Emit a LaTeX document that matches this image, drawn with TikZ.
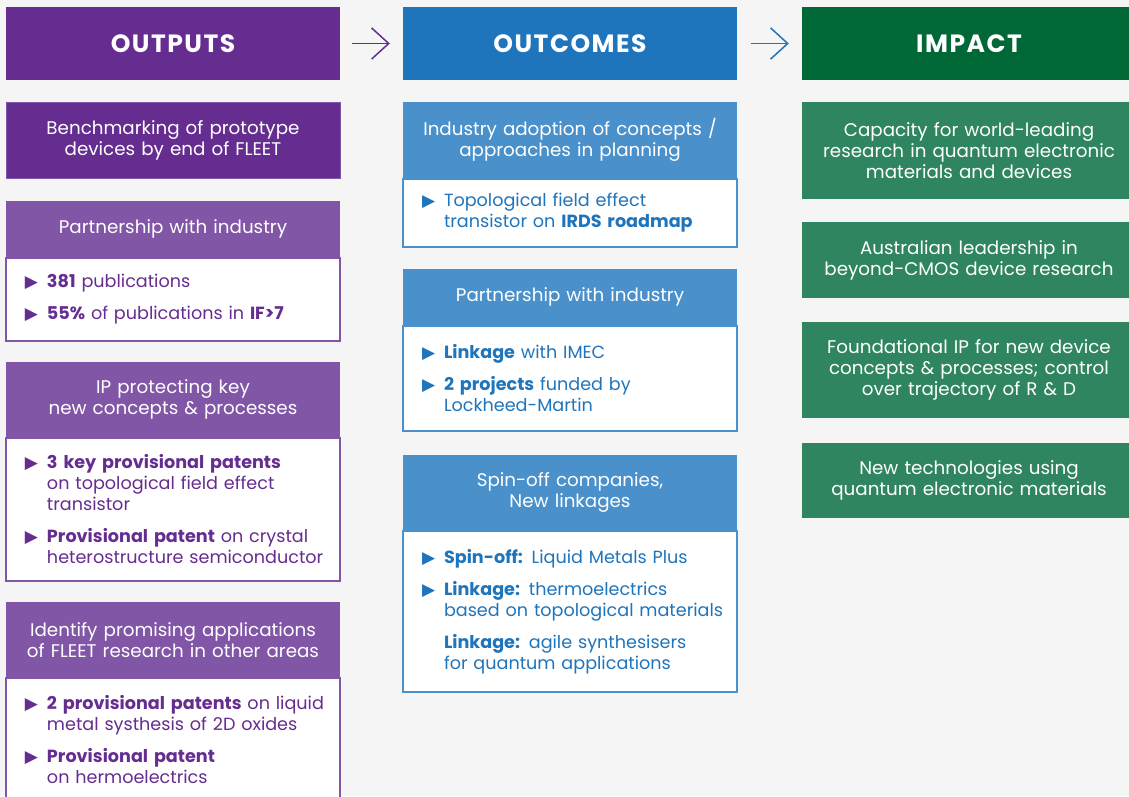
\documentclass[tikz,border=0pt]{standalone}
\usepackage{fontspec}
\setmainfont{Poppins}
\newfontfamily\bulfont{DejaVu Sans}
\usetikzlibrary{arrows.meta}
\definecolor{bgc}{HTML}{F5F5F5}
\definecolor{outdark}{HTML}{662D91}
\definecolor{outlight}{HTML}{8156A6}
\definecolor{ocdark}{HTML}{1F75BC}
\definecolor{oclight}{HTML}{4A90CA}
\definecolor{imdark}{HTML}{006837}
\definecolor{imlight}{HTML}{2F855F}
% bullet item and item without bullet
\newcommand\itm[1]{\hyphenpenalty=10000 \exhyphenpenalty=10000
  \hangindent=39pt\hangafter=1\noindent\hspace*{17pt}\makebox[22pt][l]{\bulfont\fontsize{17}{17}\selectfont ▶}#1\par}
\newcommand\nitm[1]{\hyphenpenalty=10000 \exhyphenpenalty=10000
  \hangindent=39pt\hangafter=1\noindent\hspace*{39pt}#1\par}
\newcommand\isep{\vspace{11pt}}
\begin{document}
\begin{tikzpicture}[x=1pt,y=-1pt,
    every node/.style={font=\fontsize{18.3}{21}\selectfont},
    head/.style={fill=#1,minimum width=334pt,minimum height=73pt,text=white,
      font=\fontsize{25}{25}\selectfont\bfseries\addfontfeature{LetterSpace=6}},
    cardhead/.style={anchor=north,fill=#1,minimum width=334pt,text width=320pt,
      align=center,text=white,inner sep=0pt},
    cardbody/.style={anchor=north,fill=white,draw=#1,text=#1,line width=1.2pt,
      minimum width=334pt,text width=330pt,align=left,inner sep=0pt,
      font=\fontsize{17.6}{21}\selectfont},
    flow/.style={line width=1.5pt,-{Straight Barb[length=17pt,width=31pt]}}]
  \useasboundingbox (0,0) rectangle (1129,796);
  \clip (0,0) rectangle (1129,796);
  \fill[bgc] (0,0) rectangle (1129,796);

  % column heads
  \node[head=outdark] (out) at (173,43.5) {OUTPUTS};
  \node[head=ocdark] (oc) at (570,43.5) {OUTCOMES};
  \node[head=imdark] (im) at (969,43.5) {IMPACT};
  \draw[flow,outdark] ([xshift=12pt]out.east) -- ([xshift=-13pt]oc.west);
  \draw[flow,ocdark] ([xshift=14pt]oc.east) -- ([xshift=-13pt]im.west);

  % outputs
  \node[cardhead=outdark,draw=outlight,line width=0.8pt,minimum height=76pt] (bench) at (173,102)
    {Benchmarking of prototype\\devices by end of FLEET};

  \node[cardhead=outlight,minimum height=56pt] (pih) at (173,201) {Partnership with industry};
  \node[cardbody=outdark,draw=outlight,minimum height=83pt] (pib) at (pih.south)
    {\itm{\textbf{381} publications}\isep
     \itm{\textbf{55\%} of publications in \textbf{IF>7}}};

  \node[cardhead=outlight,minimum height=75pt] (iph) at (173,362)
    {IP protecting key\\new concepts \& processes};
  \node[cardbody=outdark,draw=outlight,minimum height=143pt] (ipb) at (iph.south)
    {\itm{\textbf{3 key provisional patents}\newline on topological field effect\newline transistor}\isep
     \itm{\textbf{Provisional patent} on crystal\newline heterostructure semiconductor}};

  \node[cardhead=outlight,minimum height=75pt] (idh) at (173,602)
    {Identify promising applications\\of FLEET research in other areas};
  \node[cardbody=outdark,draw=outlight,minimum height=123pt] (idb) at (idh.south)
    {\itm{\textbf{2 provisional patents} on liquid\newline metal systhesis of 2D oxides}\isep
     \itm{\textbf{Provisional patent}\newline on hermoelectrics}};

  % outcomes
  \node[cardhead=oclight,minimum height=76pt] (adh) at (570,102)
    {Industry adoption of concepts /\\approaches in planning};
  \node[cardbody=ocdark,draw=oclight,minimum height=68pt] (adb) at (adh.south)
    {\itm{Topological field effect\newline transistor on \textbf{IRDS roadmap}}};

  \node[cardhead=oclight,minimum height=56pt] (pmh) at (570,269) {Partnership with industry};
  \node[cardbody=ocdark,draw=oclight,minimum height=105pt] (pmb) at (pmh.south)
    {\itm{\textbf{Linkage} with IMEC}\isep
     \itm{\textbf{2 projects} funded by\newline Lockheed-Martin}};

  \node[cardhead=oclight,minimum height=75pt] (sph) at (570,455)
    {Spin-off companies,\\New linkages};
  \node[cardbody=ocdark,draw=oclight,minimum height=161pt] (spb) at (sph.south)
    {\itm{\textbf{Spin-off:} Liquid Metals Plus}\isep
     \itm{\textbf{Linkage:} thermoelectrics\newline based on topological materials}\isep
     \nitm{\textbf{Linkage:} agile synthesisers\newline for quantum applications}};

  % impact
  \foreach \n/\y/\h/\t in {1/102/97/{Capacity for world-leading\\research in quantum electronic\\materials and devices},
      2/222/76/{Australian leadership in\\beyond-CMOS device research},
      3/322/96/{Foundational IP for new device\\concepts \& processes; control\\over trajectory of R \& D},
      4/443/75/{New technologies using\\quantum electronic materials}} {
    \node[cardhead=imlight,minimum height=\h pt] (imp\n) at (969,\y) {\t};
  }
\end{tikzpicture}
\end{document}
